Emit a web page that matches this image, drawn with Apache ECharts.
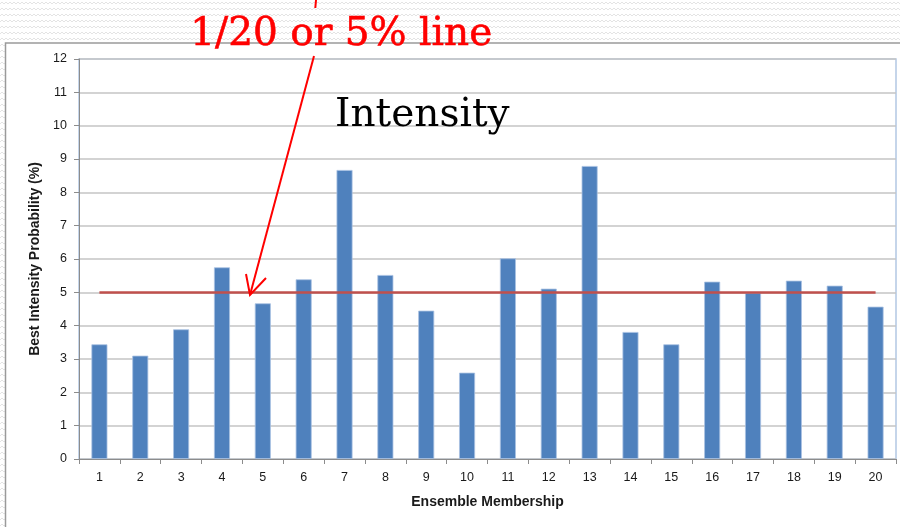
<!DOCTYPE html>
<html>
<head>
<meta charset="utf-8">
<script src="https://cdn.jsdelivr.net/npm/echarts@6/dist/echarts.min.js"></script>
<style>
  html, body { margin: 0; padding: 0; background: #ffffff; }
  #chart { width: 900px; height: 527px; }
</style>
</head>
<body>
<div id="chart"></div>
<script>
// Ensemble members on the x axis
const members = ['1','2','3','4','5','6','7','8','9','10','11','12','13','14','15','16','17','18','19','20'];
// Probability (%) that each member gives the best intensity forecast
const bestIntensityProb = [3.44, 3.10, 3.89, 5.75, 4.67, 5.39, 8.67, 5.52, 4.45, 2.59,
                           6.02, 5.11, 8.79, 3.81, 3.44, 5.32, 4.99, 5.35, 5.20, 4.57];
// Equal-share reference level: 1 of 20 members = 5%
const equalShare = 5;
const yTicks = { min: 0, max: 12, interval: 1 };

// Light zig-zag texture for the slide background strip
function zigzagPattern() {
  const c = document.createElement('canvas');
  c.width = 8; c.height = 6;
  const g = c.getContext('2d');
  g.fillStyle = '#ffffff';
  g.fillRect(0, 0, 8, 6);
  g.strokeStyle = '#e4e4e4';
  g.lineWidth = 1;
  g.beginPath();
  g.moveTo(0, 4); g.lineTo(2, 2); g.lineTo(4, 4); g.lineTo(6, 2); g.lineTo(8, 4);
  g.stroke();
  return c;
}

const chart = echarts.init(document.getElementById('chart'), null, { renderer: 'canvas' });
const pattern = { image: zigzagPattern(), repeat: 'repeat' };
const labelFont = '"Liberation Sans", Arial, sans-serif';
const serifFont = '"DejaVu Serif", "Liberation Serif", serif';

chart.setOption({
  animation: false,
  backgroundColor: '#ffffff',
  grid: {
    left: 79, right: 4, top: 59, bottom: 68,
    show: true, borderColor: '#b3c8e3', borderWidth: 1.5, backgroundColor: 'transparent'
  },
  xAxis: {
    type: 'category',
    data: members,
    boundaryGap: true,
    name: 'Ensemble Membership',
    nameLocation: 'middle',
    nameGap: 36,
    nameTextStyle: { fontFamily: labelFont, fontWeight: 'bold', fontSize: 14, color: '#1a1a1a' },
    axisLine: { lineStyle: { color: '#8c8c8c', width: 1 } },
    axisTick: { show: true, length: 5, alignWithLabel: false, lineStyle: { color: '#8c8c8c' } },
    axisLabel: { margin: 12, fontFamily: labelFont, fontSize: 12.5, color: '#1a1a1a' }
  },
  yAxis: {
    type: 'value',
    min: yTicks.min, max: yTicks.max, interval: yTicks.interval,
    name: 'Best Intensity Probability (%)',
    nameLocation: 'middle',
    nameRotate: 90,
    nameGap: 32,
    nameTextStyle: { fontFamily: labelFont, fontWeight: 'bold', fontSize: 14, color: '#1a1a1a' },
    axisLine: { show: true, lineStyle: { color: '#8c8c8c', width: 1 } },
    axisTick: { show: true, length: 5, lineStyle: { color: '#8c8c8c' } },
    axisLabel: { margin: 12, fontFamily: labelFont, fontSize: 12.5, color: '#1a1a1a' },
    splitLine: { lineStyle: { color: '#c4c4c4', width: 1.5 } }
  },
  series: [{
    type: 'bar',
    data: bestIntensityProb,
    barWidth: 16,
    itemStyle: { color: '#4f81bd', borderColor: '#a9c2e2', borderWidth: 0.8 },
    markLine: {
      silent: true,
      symbol: 'none',
      label: { show: false },
      lineStyle: { color: '#c0504d', width: 2.5, type: 'solid' },
      data: [[
        { coord: [members[0], equalShare] },
        { coord: [members[members.length - 1], equalShare] }
      ]]
    }
  }],
  graphic: [
    // textured slide strip along the top and left edges
    { type: 'rect', z: -10, shape: { x: 0, y: 0, width: 900, height: 42 }, style: { fill: pattern } },
    { type: 'rect', z: -10, shape: { x: 0, y: 0, width: 5, height: 527 }, style: { fill: pattern } },
    // chart frame
    { type: 'polyline', z: 5, shape: { points: [[900, 43], [5.5, 43], [5.5, 527]] },
      style: { stroke: '#9a9a9a', lineWidth: 1.5, fill: null } },
    // in-chart heading
    { type: 'text', z: 20, left: 335, top: 96,
      style: { text: 'Intensity', fontFamily: serifFont, fontSize: 39, fill: '#000000' } },
    // annotation arrow pointing at the 5% line
    { type: 'line', z: 20, shape: { x1: 316, y1: 0, x2: 315.3, y2: 8 },
      style: { stroke: '#ff0000', lineWidth: 2 } },
    { type: 'line', z: 20, shape: { x1: 314, y1: 56, x2: 250, y2: 295 },
      style: { stroke: '#ff0000', lineWidth: 2 } },
    { type: 'polyline', z: 20, shape: { points: [[246, 274], [250, 295], [266, 278]] },
      style: { stroke: '#ff0000', lineWidth: 2, fill: null } },
    { type: 'text', z: 21, left: 190, top: 15,
      style: { text: '1/20 or 5% line', fontFamily: serifFont, fontSize: 39, fill: '#ff0000',
               stroke: '#ff0000', lineWidth: 0.6 } }
  ]
});
</script>
</body>
</html>
